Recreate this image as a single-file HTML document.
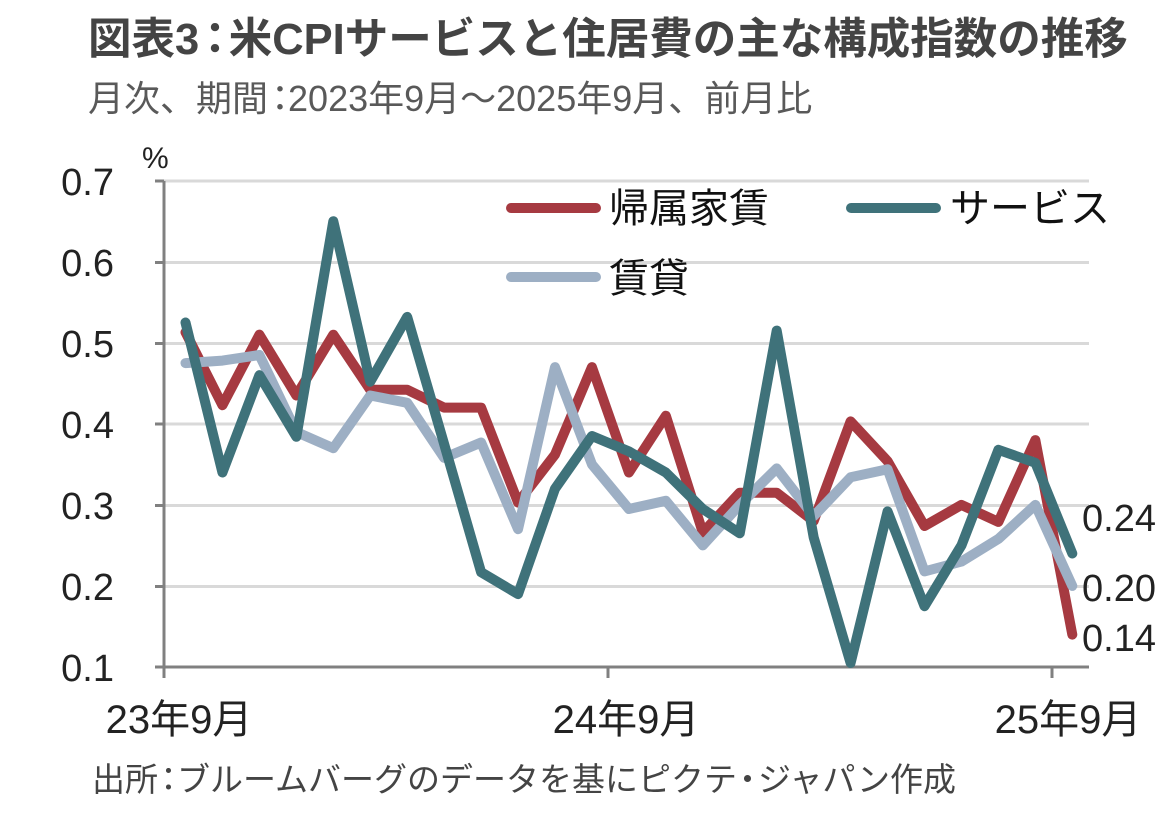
<!DOCTYPE html>
<html><head><meta charset="utf-8"><style>
html,body{margin:0;padding:0;background:#fff;}
svg{display:block;}
text{font-family:"Liberation Sans","Noto Sans CJK JP",sans-serif;}
</style></head><body>
<svg width="1176" height="818" viewBox="0 0 1176 818" xmlns="http://www.w3.org/2000/svg">
<rect width="1176" height="818" fill="#fff"/>
<!-- title -->
<text x="88" y="54" font-size="43.5" font-weight="bold" fill="#444">図表3<tspan dx="-6">：</tspan><tspan dx="-8">米CPIサービスと住居費の主な構成指数の推移</tspan></text>
<text x="88" y="111" font-size="36" fill="#595959">月次、期間<tspan dx="-6">：</tspan><tspan dx="-10">2023年9月～2025年9月、前月比</tspan></text>
<!-- gridlines -->
<g stroke="#d9d9d9" stroke-width="3">
<line x1="164" y1="181" x2="1089" y2="181"/>
<line x1="164" y1="262.5" x2="1089" y2="262.5"/>
<line x1="164" y1="343.5" x2="1089" y2="343.5"/>
<line x1="164" y1="424" x2="1089" y2="424"/>
<line x1="164" y1="505.5" x2="1089" y2="505.5"/>
<line x1="164" y1="586.5" x2="1089" y2="586.5"/>
</g>
<!-- axes -->
<g stroke="#808080" stroke-width="3">
<line x1="164" y1="181" x2="164" y2="678"/>
<line x1="155" y1="667" x2="1089" y2="667"/>
<line x1="155" y1="181" x2="164" y2="181"/>
<line x1="155" y1="262.5" x2="164" y2="262.5"/>
<line x1="155" y1="343.5" x2="164" y2="343.5"/>
<line x1="155" y1="424" x2="164" y2="424"/>
<line x1="155" y1="505.5" x2="164" y2="505.5"/>
<line x1="155" y1="586.5" x2="164" y2="586.5"/>
<line x1="608" y1="667" x2="608" y2="678"/>
<line x1="1052" y1="667" x2="1052" y2="678"/>
</g>
<!-- y labels -->
<g font-size="38" fill="#222" text-anchor="end">
<text x="114" y="195">0.7</text>
<text x="114" y="276">0.6</text>
<text x="114" y="357">0.5</text>
<text x="114" y="438">0.4</text>
<text x="114" y="519">0.3</text>
<text x="114" y="600">0.2</text>
<text x="114" y="681">0.1</text>
</g>
<text x="142" y="168" font-size="30" fill="#222">%</text>
<!-- x labels -->
<g font-size="40" fill="#222" text-anchor="middle">
<text x="179" y="733">23年9月</text>
<text x="626" y="733">24年9月</text>
<text x="1068" y="733">25年9月</text>
</g>
<!-- series -->
<g fill="none" stroke-width="10" stroke-linejoin="round" stroke-linecap="round">
<polyline stroke="#a63a41" points="185.5,332.3 222.45,405.2 259.4,334.7 296.35,395.5 333.3,334.7 370.25,389.8 407.2,389.8 444.15,407.6 481.1,407.6 518.05,502.5 555,454.6 591.95,367.1 628.9,472.5 665.85,415.7 702.8,532.5 739.75,492.7 776.7,492.7 813.65,521.1 850.6,421.4 887.55,461.1 924.5,526 961.45,504.9 998.4,521.9 1035.35,440.1 1072.3,634.6"/>
<polyline stroke="#9dafc4" points="185.5,363.1 222.45,360.6 259.4,355 296.35,432 333.3,448.2 370.25,395.5 407.2,402.8 444.15,457.9 481.1,442.5 518.05,529.2 555,367.1 591.95,464.4 628.9,509 665.85,500.8 702.8,545.4 739.75,504.9 776.7,468.4 813.65,516.2 850.6,477.3 887.55,469.2 924.5,571.4 961.45,561.6 998.4,538.9 1035.35,504.9 1072.3,585.9"/>
<polyline stroke="#3f727a" points="185.5,322.5 222.45,472.5 259.4,375.2 296.35,436.8 333.3,221.2 370.25,381.7 407.2,316.9 444.15,444.1 481.1,572.2 518.05,594.1 555,488.7 591.95,436 628.9,451.4 665.85,472.5 702.8,509 739.75,533.3 776.7,330.6 813.65,537.3 850.6,663 887.55,511.4 924.5,606.2 961.45,545.4 998.4,449.8 1035.35,462.8 1072.3,553.5"/>
</g>
<!-- legend -->
<g stroke-width="10" stroke-linecap="round">
<line x1="511" y1="208" x2="596" y2="208" stroke="#a63a41"/>
<line x1="511" y1="277" x2="596" y2="277" stroke="#9dafc4"/>
<line x1="851" y1="208" x2="936" y2="208" stroke="#3f727a"/>
</g>
<g font-size="40" fill="#111">
<text x="609" y="222">帰属家賃</text>
<text x="609" y="292">賃貸</text>
<text x="950" y="222">サービス</text>
</g>
<!-- end labels -->
<g font-size="38" fill="#222">
<text x="1082" y="531">0.24</text>
<text x="1082" y="601">0.20</text>
<text x="1082" y="651">0.14</text>
</g>
<!-- source -->
<text x="92" y="791" font-size="33" fill="#444">出所<tspan dx="-6">：</tspan><tspan dx="-8">ブルームバーグのデータを基にピクテ</tspan><tspan dx="-6">・</tspan><tspan dx="-6">ジャパン作成</tspan></text>
</svg>
</body></html>
